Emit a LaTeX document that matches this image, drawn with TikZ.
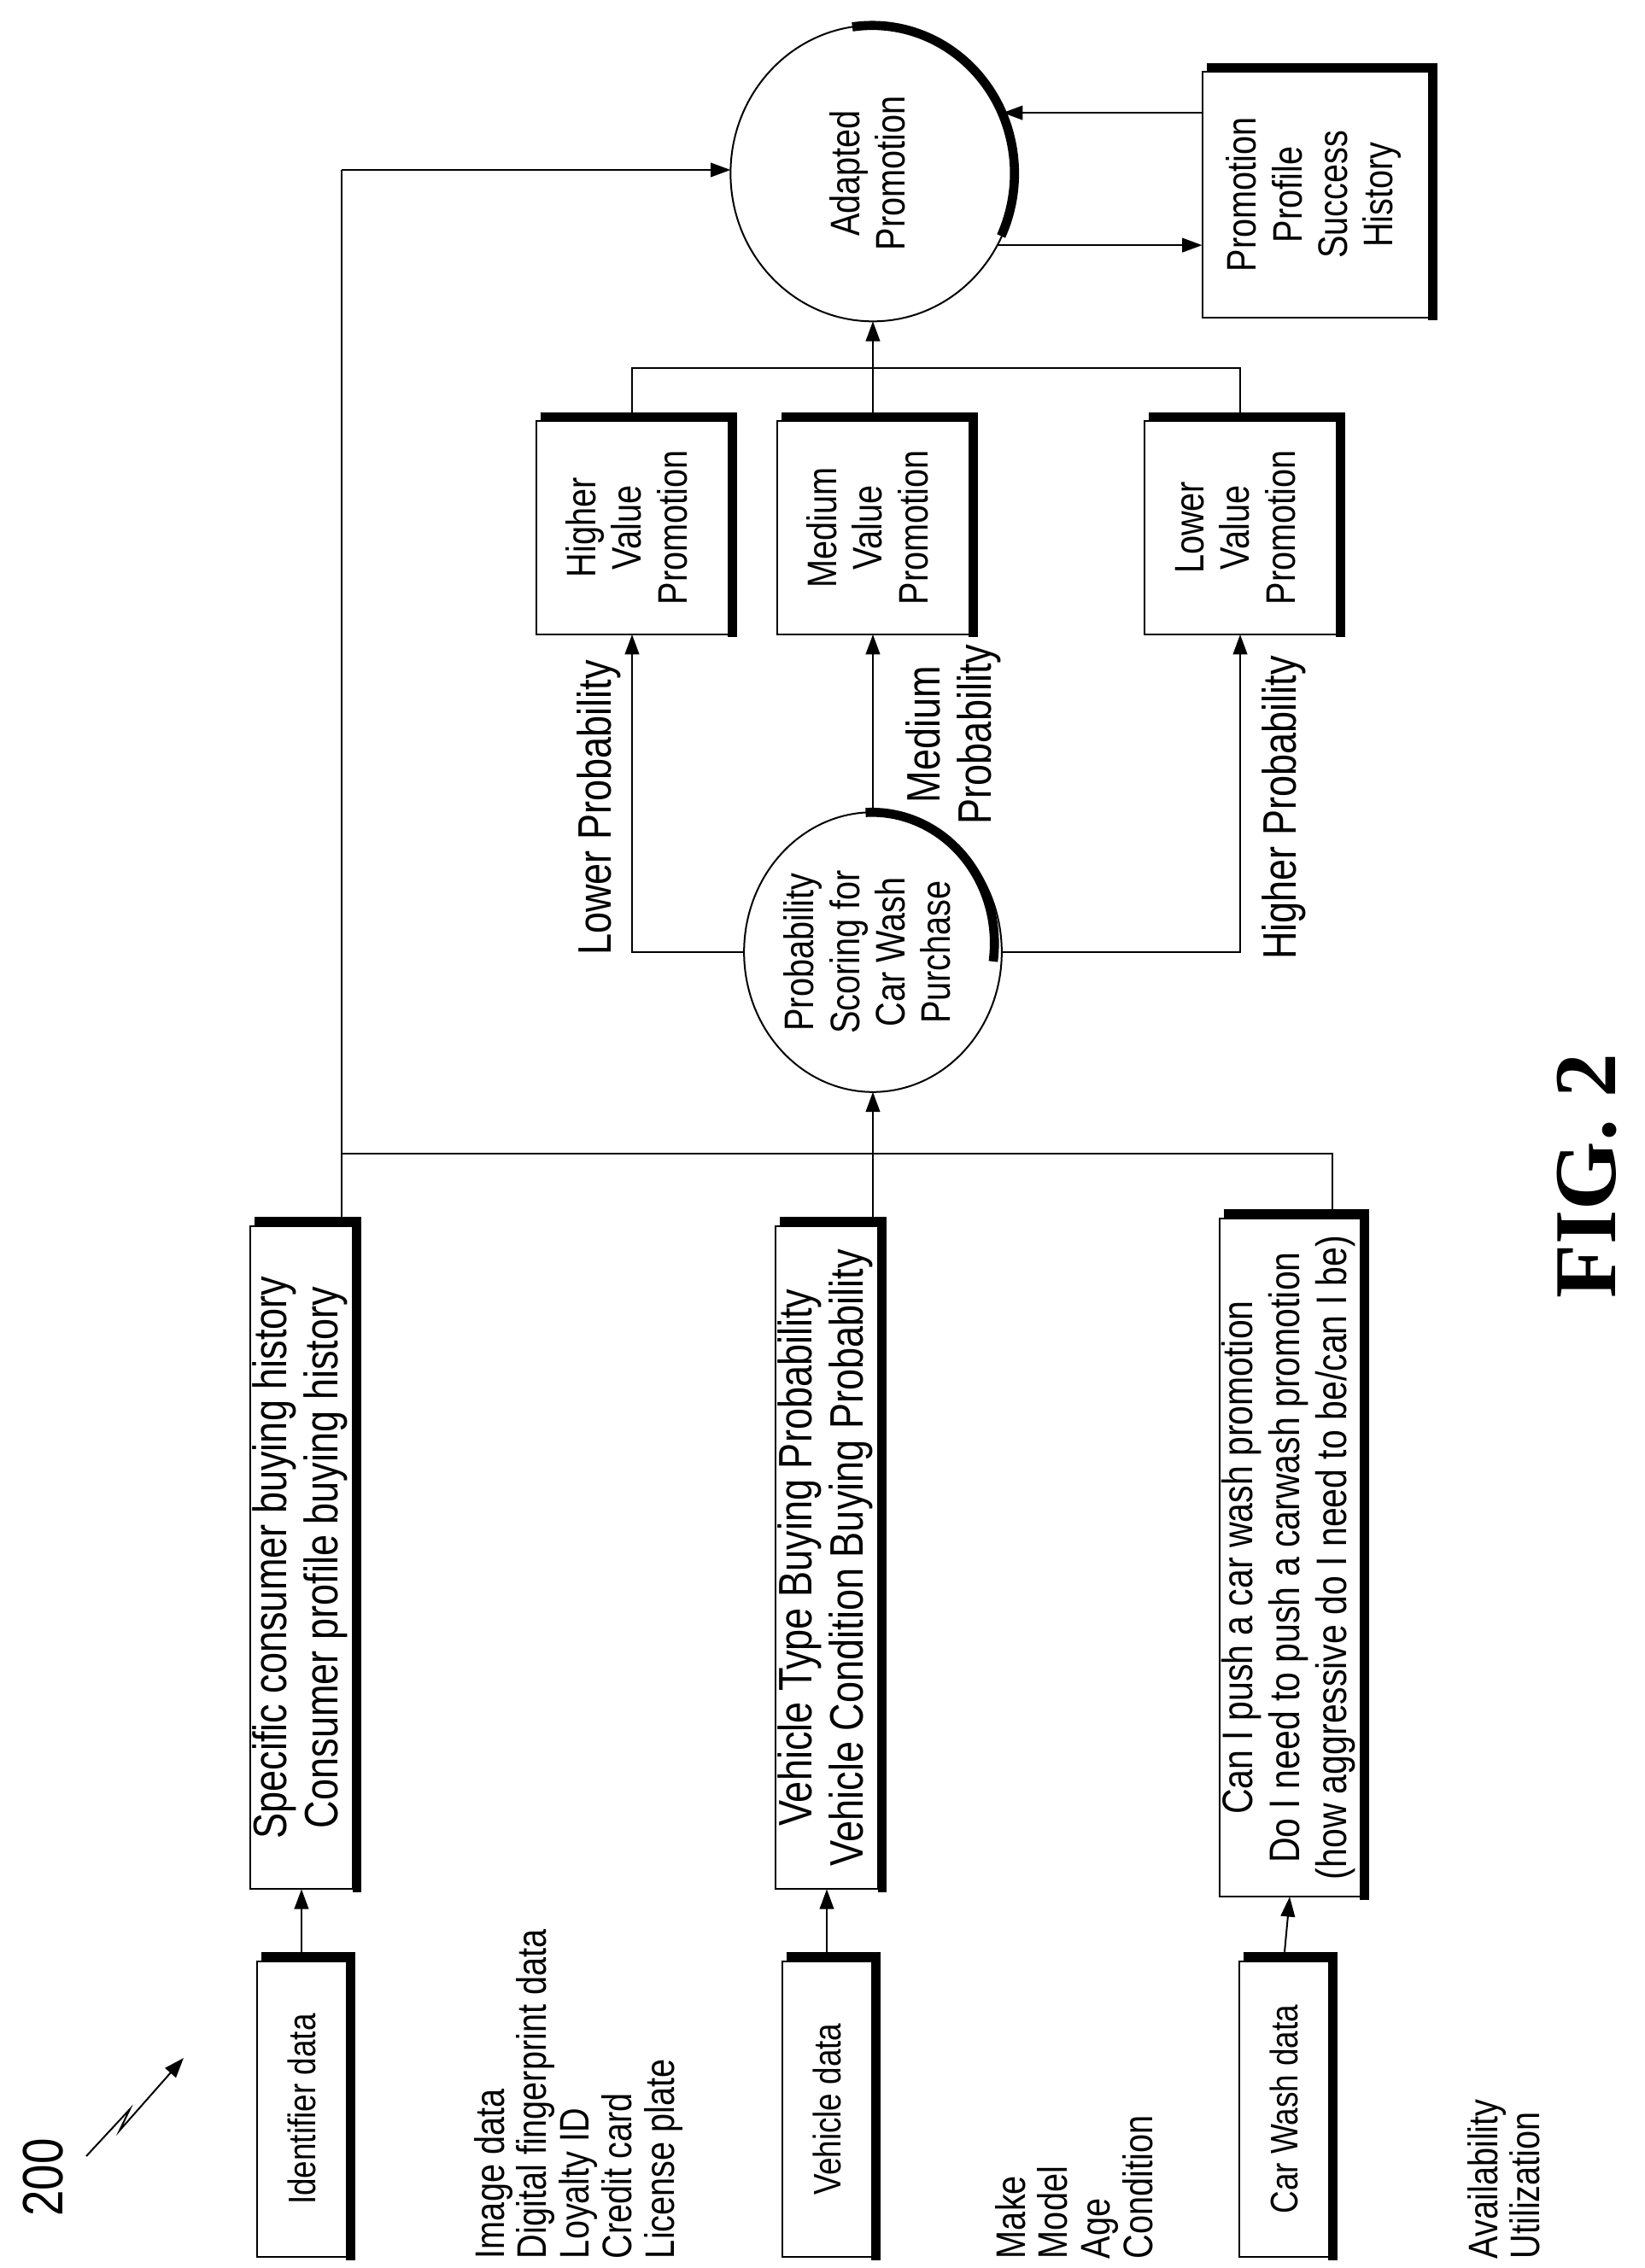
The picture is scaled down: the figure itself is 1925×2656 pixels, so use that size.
\documentclass[tikz,border=0pt]{standalone}
\usepackage{fontspec}
\setmainfont{Liberation Sans}[FakeStretch=0.82]
\newfontfamily\figfont{Liberation Serif}
\usetikzlibrary{shapes.geometric,arrows.meta}
\begin{document}
\begin{tikzpicture}[x=0.3pt,y=0.3pt,
  every node/.style={font=\fontsize{13.5pt}{15pt}\selectfont, inner sep=0pt, outer sep=0pt},
  box/.style={draw, line width=0.6pt, align=center},
  mid/.style={font=\fontsize{14.5pt}{16pt}\selectfont},
  big/.style={font=\fontsize{16.5pt}{18pt}\selectfont},
  shd/.style={line width=3.2pt},
  ln/.style={line width=0.6pt},
  arr/.style={line width=0.6pt, -{Triangle[length=7pt,width=5pt]}}]
\useasboundingbox (0,0) rectangle (1925,-2656);
% small input boxes
\node[box, minimum width=31.5pt, minimum height=104pt] (ids) at (353,-2470) {\rotatebox{90}{Identifier data}};
\node[box, minimum width=31.5pt, minimum height=104pt] (vds) at (968,-2470) {\rotatebox{90}{Vehicle data}};
\node[box, minimum width=31.5pt, minimum height=104pt] (cws) at (1503,-2470) {\rotatebox{90}{Car Wash data}};
% lists
\node[anchor=south west, font=\fontsize{14.5pt}{14.8pt}\selectfont] (l1) at (555,-2645) {\rotatebox{90}{\begin{tabular}{@{}l@{}}Image data\\Digital fingerprint data\\Loyalty ID\\Credit card\\License plate\end{tabular}}};
\node[anchor=south west, font=\fontsize{14.5pt}{14.8pt}\selectfont] (l2) at (1165,-2645) {\rotatebox{90}{\begin{tabular}{@{}l@{}}Make\\Model\\Age\\Condition\end{tabular}}};
\node[anchor=south west, font=\fontsize{14.5pt}{14.8pt}\selectfont] (l3) at (1718,-2645) {\rotatebox{90}{\begin{tabular}{@{}l@{}}Availability\\Utilization\end{tabular}}};
% big boxes
\node[box, big, minimum width=33pt, minimum height=233pt] (idb) at (353,-1824) {\rotatebox{90}{\begin{tabular}{c}Specific consumer buying history\\Consumer profile buying history\end{tabular}}};
\node[box, big, minimum width=33pt, minimum height=233pt] (vtb) at (968,-1824) {\rotatebox{90}{\begin{tabular}{c}Vehicle Type Buying Probability\\Vehicle Condition Buying Probability\end{tabular}}};
\node[box, minimum width=36pt, minimum height=233pt, font=\fontsize{15pt}{16.5pt}\selectfont] (cwb) at (1510,-1824) {\rotatebox{90}{\begin{tabular}{c}Can I push a car wash promotion\\Do I need to push a carwash promotion\\(how aggressive do I need to be/can I be)\end{tabular}}};
% probability circle
\node[draw, ln, mid, ellipse, minimum width=86pt, minimum height=92pt] (prob) at (1022,-1115) {\rotatebox{90}{\begin{tabular}{c}Probability\\Scoring for\\Car Wash\\Purchase\end{tabular}}};
% value boxes
\node[box, mid, minimum width=67.5pt, minimum height=75pt] (hv) at (740,-618) {\rotatebox{90}{\begin{tabular}{c}Higher\\Value\\Promotion\end{tabular}}};
\node[box, mid, minimum width=67.5pt, minimum height=75pt] (mv) at (1022,-618) {\rotatebox{90}{\begin{tabular}{c}Medium\\Value\\Promotion\end{tabular}}};
\node[box, mid, minimum width=67.5pt, minimum height=75pt] (lv) at (1452,-618) {\rotatebox{90}{\begin{tabular}{c}Lower\\Value\\Promotion\end{tabular}}};
% adapted promotion
\node[draw, ln, mid, ellipse, minimum width=100pt, minimum height=104pt] (ad) at (1022,-203) {\rotatebox{90}{\begin{tabular}{c}Adapted\\Promotion\end{tabular}}};
\node[box, mid, minimum width=79.5pt, minimum height=86.4pt] (pp) at (1540,-228) {\rotatebox{90}{\begin{tabular}{c}Promotion\\Profile\\Success\\History\end{tabular}}};
% shadows
\foreach \n in {ids,vds,cws,idb,vtb,cwb,hv,mv,lv,pp}{
  \draw[shd] ([xshift=1.5pt,yshift=1.5pt]\n.north west) -- ([xshift=1.5pt,yshift=1.5pt]\n.north east) -- ([xshift=1.5pt,yshift=-1pt]\n.south east);
}
\draw[shd] (prob.93) arc[start angle=93,end angle=-8,x radius=43pt,y radius=46pt];
\draw[shd] (ad.98) arc[start angle=98,end angle=-25,x radius=50pt,y radius=52pt];
% labels
\node[big] (lp) at (701,-946) {\rotatebox{90}{Lower Probability}};
\node[big] (mp) at (1118,-860) {\rotatebox{90}{\begin{tabular}{c}Medium\\Probability\end{tabular}}};
\node[big] (hp) at (1503,-946) {\rotatebox{90}{Higher Probability}};
\node (fig) at (1858,-1377) {\rotatebox{90}{\figfont\bfseries\fontsize{31pt}{33pt}\selectfont FIG. 2}};
\node (num) at (51,-2550) {\rotatebox{90}{\fontsize{20pt}{22pt}\selectfont 200}};
% connectors
\coordinate (j1) at (400,-1351);
\coordinate (j2) at (1022,-1351);
\coordinate (j3) at (1560,-1351);
\coordinate (t) at (1022,-431);
\coordinate (a1) at (400,-199);
\coordinate (z0) at (101,-2525);
\coordinate (z1) at (152,-2470);
\coordinate (z2) at (140,-2495);
\coordinate (z3) at (215,-2410);
\draw[arr] (ids.north) -- (idb.south);
\draw[arr] (vds.north) -- (vtb.south);
\draw[arr] (cws.north) -- (cwb.south);
\draw[ln] (idb.north -| j1) -- (j1) -- (j3) -- (cwb.north -| j3);
\draw[ln] (vtb.north -| j2) -- (j2);
\draw[arr] (j2) -- (prob.south);
\draw[ln] (j1) -- (a1);
\draw[arr] (a1) -- (ad.west |- a1);
\draw[arr] (prob.west) -| (hv.south);
\draw[arr] (prob.north) -- (mv.south);
\draw[arr] (prob.east) -| (lv.south);
\draw[ln] (hv.north) -- (hv.north |- t) -- (lv.north |- t) -- (lv.north);
\draw[arr] (mv.north) -- (ad.south);
\draw[arr] (pp.west |- ad.25) -- (ad.25);
\draw[arr] (ad.-30) -- (pp.west |- ad.-30);
\draw[arr] (z0) -- (z1) -- (z2) -- (z3);
\end{tikzpicture}
\end{document}
